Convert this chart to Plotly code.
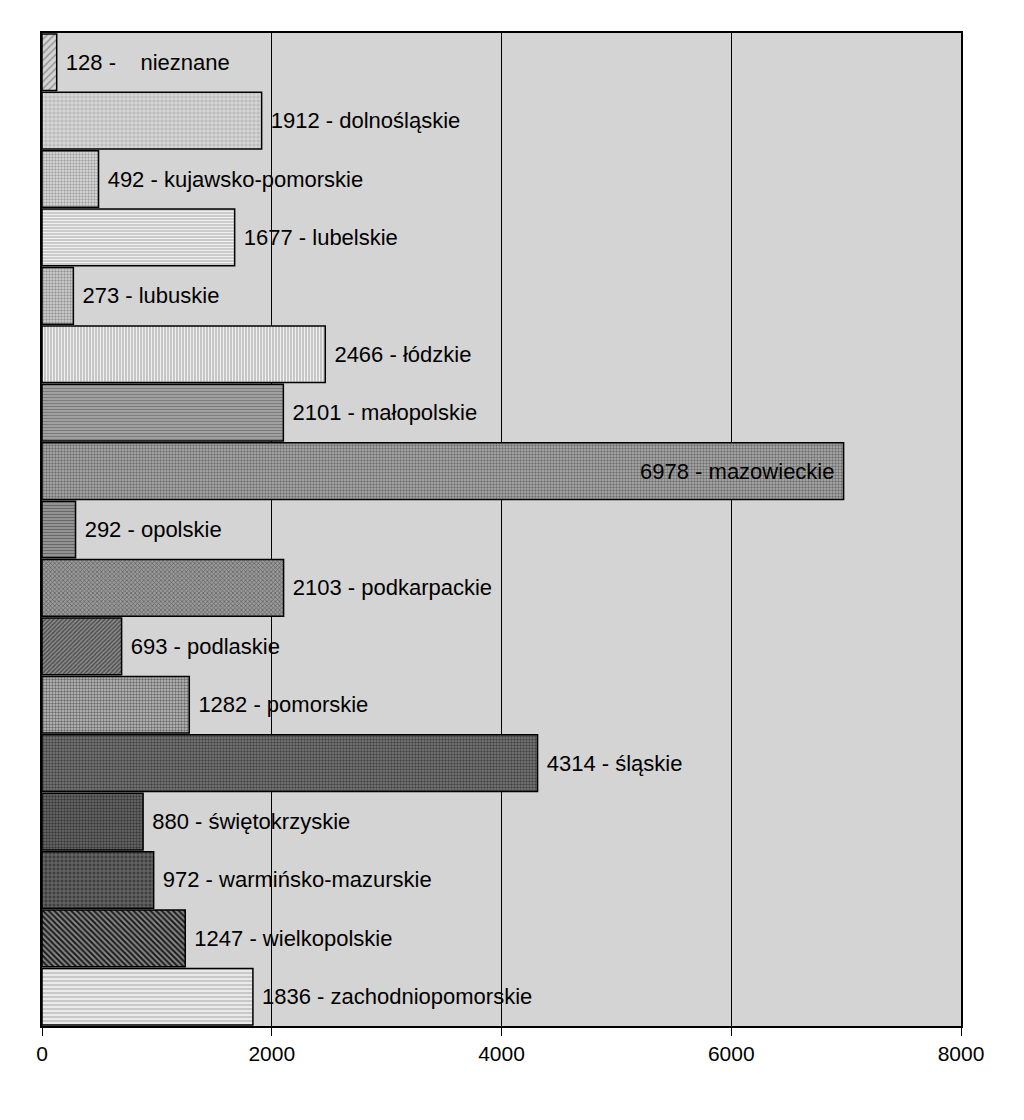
import plotly.graph_objects as go

regions = ["nieznane", "dolnośląskie", "kujawsko-pomorskie", "lubelskie", "lubuskie",
           "łódzkie", "małopolskie", "mazowieckie", "opolskie", "podkarpackie",
           "podlaskie", "pomorskie", "śląskie", "świętokrzyskie",
           "warmińsko-mazurskie", "wielkopolskie", "zachodniopomorskie"]
values = [128, 1912, 492, 1677, 273, 2466, 2101, 6978, 292, 2103,
          693, 1282, 4314, 880, 972, 1247, 1836]
x_ticks = [0, 2000, 4000, 6000, 8000]

# pattern styles per bar (shape, bg, fg, size, solidity)
styles = [
    ("/", "#d4d4d4", "#969696", 5, 0.3),
    ("+", "#bcbcbc", "#eaeaea", 4, 0.3),
    (".", "#e0e0e0", "#a4a4a4", 3, 0.5),
    ("-", "#c4c4c4", "#f0f0f0", 3, 0.45),
    (".", "#d6d6d6", "#969696", 3, 0.5),
    ("|", "#bebebe", "#f0f0f0", 3, 0.45),
    ("-", "#a4a4a4", "#7c7c7c", 3, 0.4),
    (".", "#b0b0b0", "#707070", 3, 0.5),
    ("-", "#9c9c9c", "#686868", 3, 0.45),
    ("x", "#9a9a9a", "#5c5c5c", 3, 0.4),
    ("/", "#8c8c8c", "#4a4a4a", 3, 0.45),
    (".", "#c0c0c0", "#6c6c6c", 3, 0.5),
    (".", "#7c7c7c", "#444444", 3, 0.5),
    (".", "#6c6c6c", "#3a3a3a", 3, 0.5),
    ("+", "#404040", "#808080", 4, 0.3),
    ("\\", "#888888", "#1a1a1a", 4, 0.5),
    ("-", "#c8c8c8", "#eeeeee", 4, 0.45),
]

fig = go.Figure()
for r, v, (shape, bg, fg, size, sol) in zip(regions, values, styles):
    if r == "nieznane":
        txt = f"{v} -\u00a0\u00a0\u00a0\u00a0{r}"
    else:
        txt = f"{v} - {r}"
    if v > 5000:
        label, pos = txt + "\u00a0", "inside"
    else:
        label, pos = "\u00a0" + txt, "outside"
    fig.add_trace(go.Bar(
        y=[r], x=[v], orientation="h",
        text=[label], textposition=pos,
        insidetextanchor="end", textangle=0,
        cliponaxis=False, constraintext="none",
        textfont=dict(family="Liberation Sans, Arial, sans-serif", size=22, color="black"),
        marker=dict(
            color=bg,
            line=dict(color="black", width=1.5),
            pattern=dict(shape=shape, bgcolor=bg, fgcolor=fg, fgopacity=1,
                         size=size, solidity=sol, fillmode="replace"),
        ),
        hoverinfo="skip",
        showlegend=False,
    ))

fig.update_layout(
    width=1024, height=1120,
    margin=dict(l=42, r=63, t=33, b=94),
    paper_bgcolor="white",
    plot_bgcolor="#d4d4d4",
    showlegend=False,
    barmode="overlay",
    bargap=0.03,
    xaxis=dict(
        range=[0, 8000],
        tickvals=x_ticks,
        ticktext=[str(t) for t in x_ticks],
        ticks="outside", ticklen=8, tickcolor="black", tickwidth=1,
        showgrid=True, gridcolor="black", gridwidth=1,
        showline=True, linecolor="black", linewidth=1.5, mirror=True,
        zeroline=False,
        tickfont=dict(family="Liberation Sans Narrow, Arial Narrow, Liberation Sans, sans-serif", size=21, color="black"),
    ),
    yaxis=dict(
        autorange="reversed",
        categoryorder="array", categoryarray=regions,
        showticklabels=False,
        ticks="",
        showgrid=False,
        showline=True, linecolor="black", linewidth=1.5, mirror=True,
        zeroline=False,
    ),
)

fig.write_html("out.html")
